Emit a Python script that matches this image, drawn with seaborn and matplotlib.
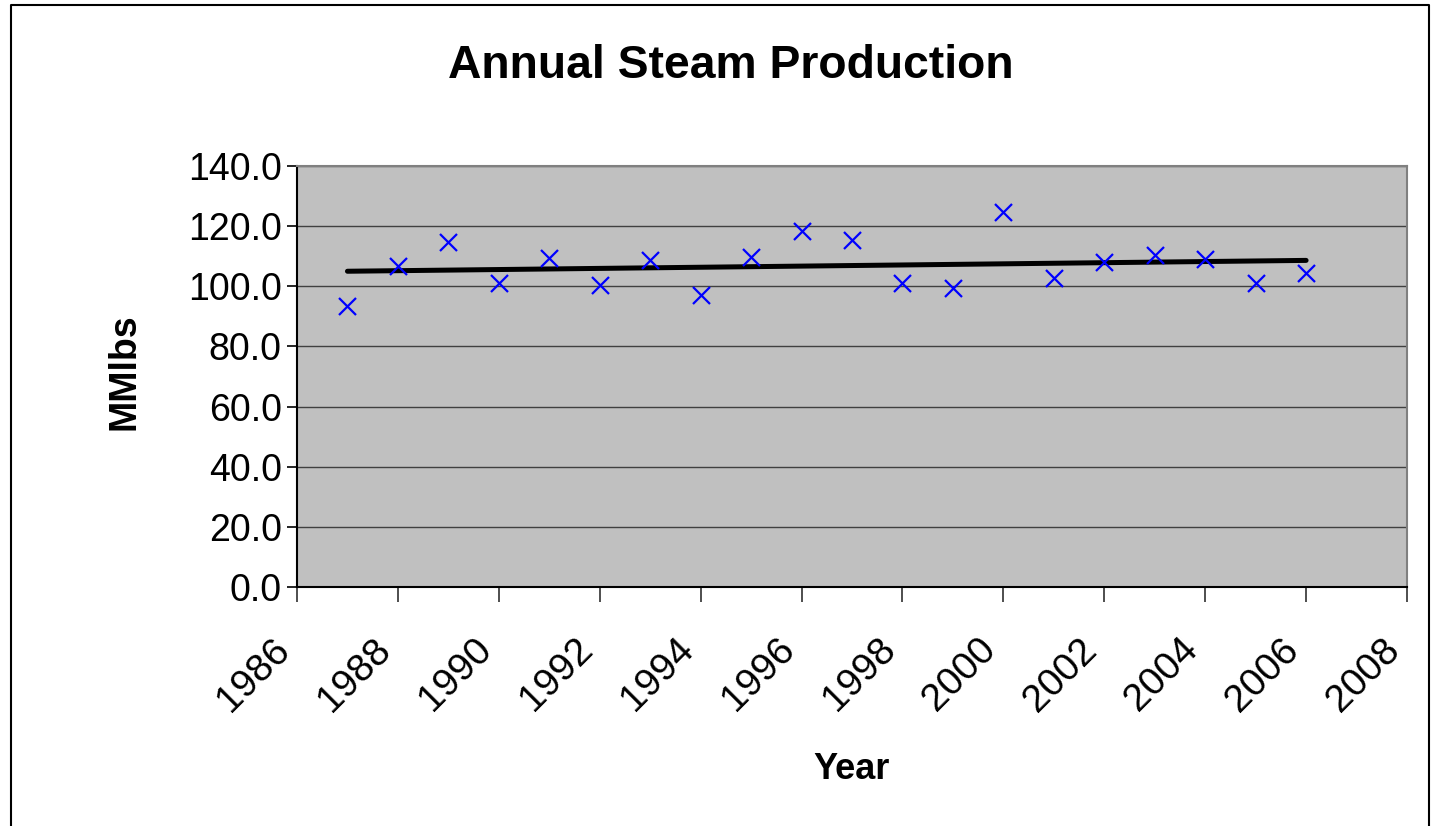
import matplotlib
matplotlib.use("Agg")
import matplotlib.pyplot as plt
import numpy as np
import pandas as pd
import seaborn as sns
from matplotlib.lines import Line2D

years = [1987, 1988, 1989, 1990, 1991, 1992, 1993, 1994, 1995, 1996,
         1997, 1998, 1999, 2000, 2001, 2002, 2003, 2004, 2005, 2006]
steam = [93.4, 106.7, 114.7, 101.1, 109.4, 100.4, 108.7, 97.1, 109.7, 118.4,
         115.4, 101.1, 99.4, 124.7, 102.8, 108.1, 110.4, 109.1, 101.1, 104.4]
x_ticks = list(range(1986, 2009, 2))
y_ticks = list(range(0, 141, 20))

df = pd.DataFrame({"Year": years, "MMlbs": steam})

sns.set_style("white")
plt.rcParams["font.family"] = ["Liberation Sans", "DejaVu Sans"]
plt.rcParams["text.color"] = "black"
plt.rcParams["axes.labelcolor"] = "black"
plt.rcParams["xtick.color"] = "black"
plt.rcParams["ytick.color"] = "black"

fig = plt.figure(figsize=(14.31, 8.26), dpi=100)
ax = fig.add_axes([297 / 1431, 1 - 587 / 826, 1110 / 1431, 421 / 826])
ax.set_facecolor("#c0c0c0")

# linear trend line over the data range
slope, icpt = np.polyfit(df["Year"], df["MMlbs"], 1)
tx = np.array([df["Year"].min(), df["Year"].max()])
ax.plot(tx, slope * tx + icpt, color="black", lw=3.6, solid_capstyle="round", zorder=3)

sns.scatterplot(data=df, x="Year", y="MMlbs", ax=ax, marker="x", color="#0000ff",
                s=150, linewidth=1.6, zorder=4)

ax.set_xlim(1986, 2008)
ax.set_ylim(0, 140)
ax.set_xticks(x_ticks)
ax.set_yticks(y_ticks)
ax.set_yticklabels([f"{v:.1f}" for v in y_ticks], fontsize=27)
ax.set_xticklabels([str(v) for v in x_ticks], fontsize=28, rotation=45,
                   ha="right", va="top")
ax.grid(axis="y", color="#404040", lw=1.0)
ax.set_axisbelow(True)

ax.tick_params(axis="y", left=True, direction="out", length=7, width=1.2,
               color="black", pad=4)
ax.tick_params(axis="x", bottom=True, direction="out", length=11, width=1.2,
               color="#303030", pad=21)
ax.spines["left"].set_color("black")
ax.spines["bottom"].set_color("black")
ax.spines["left"].set_linewidth(1.5)
ax.spines["bottom"].set_linewidth(1.5)
for s in ["top", "right"]:
    ax.spines[s].set_color("#808080")
    ax.spines[s].set_linewidth(1.5)

ax.set_xlabel("Year", fontsize=26, fontweight="bold")
ax.set_ylabel("MMlbs", fontsize=27, fontweight="bold")
ax.xaxis.set_label_coords(0.5, -0.392)
ax.yaxis.set_label_coords(-0.139, 0.511)

fig.text(0.511, 1 - 66 / 826, "Annual Steam Production", fontsize=33.3,
         fontweight="bold", ha="center", va="center")

# outer chart border (bottom edge is cropped off)
bx = [11 / 1431, 11 / 1431, 1429 / 1431, 1429 / 1431]
by = [0, 1 - 5 / 826, 1 - 5 / 826, 0]
fig.add_artist(Line2D(bx, by, color="black", lw=1.5, transform=fig.transFigure))

fig.savefig("out.png", dpi=100)
